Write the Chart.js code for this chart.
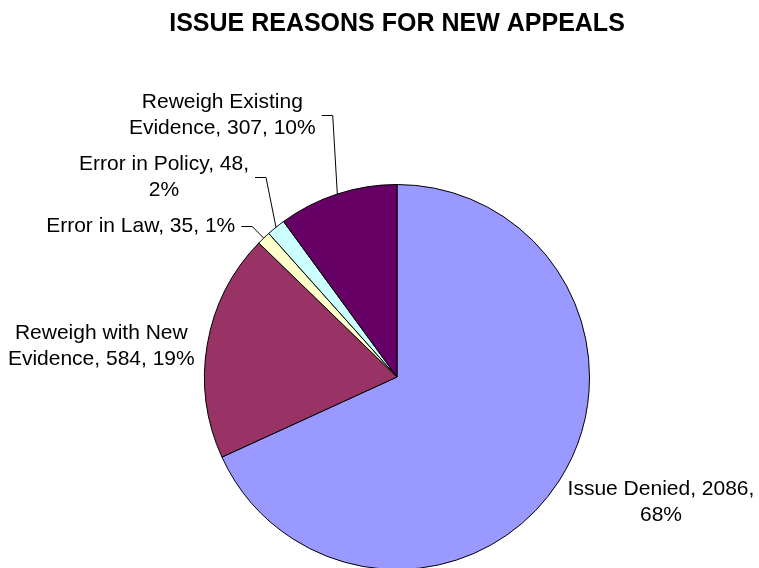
<!DOCTYPE html>
<html>
<head>
<meta charset="utf-8">
<script src="https://cdn.jsdelivr.net/npm/chart.js@4/dist/chart.umd.min.js"></script>
<style>
html, body { margin: 0; padding: 0; background: #fff; overflow: hidden; }
#wrap { position: relative; width: 759px; height: 575px; }
</style>
</head>
<body>
<div id="wrap"><canvas id="chart_issueReasons"></canvas></div>
<script>
var chartTitle = 'ISSUE REASONS FOR NEW APPEALS';
var categories = ['Issue Denied', 'Reweigh with New Evidence', 'Error in Law', 'Error in Policy', 'Reweigh Existing Evidence'];
var appealCounts = [2086, 584, 35, 48, 307];
var sliceColors = ['#9999FF', '#993366', '#FFFFCC', '#CCFFFF', '#660066'];

// how many words go on the first line of each data label
var firstLineWords = [3, 3, 5, 4, 2];
// label block centre, relative to the outer mid point of its slice
var labelOffsets = [[102, 21], [-106, 2], [-123, -12], [-112, -50], [-115, -79]];
var showLeader = [false, false, true, true, true];

var labelFont = '21px "Liberation Sans", Arial, sans-serif';
var titleFont = 'bold 25px "Liberation Sans", Arial, sans-serif';

var pieLabels = {
    id: 'pieLabels',
    afterDatasetsDraw: (chart) => {
        const ctx = chart.ctx;
        const meta = chart.getDatasetMeta(0);
        const total = appealCounts.reduce((a, b) => a + b, 0);
        ctx.save();
        ctx.fillStyle = '#000';
        ctx.strokeStyle = '#000';
        ctx.lineWidth = 1;
        ctx.textAlign = 'center';
        ctx.textBaseline = 'middle';

        // title
        ctx.font = titleFont;
        ctx.fillText(chartTitle, (chart.chartArea.left + chart.chartArea.right) / 2, 24);

        ctx.font = labelFont;
        meta.data.forEach((arc, i) => {
            const p = arc.getProps(['x', 'y', 'startAngle', 'endAngle', 'outerRadius'], true);
            const mid = (p.startAngle + p.endAngle) / 2;
            const ax = p.x + Math.cos(mid) * p.outerRadius;
            const ay = p.y + Math.sin(mid) * p.outerRadius;
            const pct = Math.round(appealCounts[i] / total * 100);
            const words = (categories[i] + ', ' + appealCounts[i] + ', ' + pct + '%').split(' ');
            const lines = [words.slice(0, firstLineWords[i]).join(' '), words.slice(firstLineWords[i]).join(' ')].filter(s => s);
            const cx = ax + labelOffsets[i][0];
            const cy = ay + labelOffsets[i][1];
            const lh = 26;
            lines.forEach((t, k) => ctx.fillText(t, cx, cy + (k - (lines.length - 1) / 2) * lh));
            if (showLeader[i]) {
                const w = Math.max(...lines.map(t => ctx.measureText(t).width));
                const x0 = cx + w / 2 + 6;
                const y0 = Math.round(cy) + 0.5;
                ctx.beginPath();
                ctx.moveTo(x0, y0);
                ctx.lineTo(x0 + 11, y0);
                ctx.lineTo(ax, ay);
                ctx.stroke();
            }
        });
        ctx.restore();
    }
};

var chart_issueReasons = new Chart(document.getElementById('chart_issueReasons'), {
    type: 'pie',
    data: {
        labels: categories,
        datasets: [{
            data: appealCounts,
            backgroundColor: sliceColors,
            borderColor: '#000',
            borderWidth: 1
        }]
    },
    options: {
        animation: false,
        responsive: true,
        maintainAspectRatio: false,
        layout: {
            padding: { left: 204, right: 169, top: 184, bottom: 5 }
        },
        plugins: {
            legend: { display: false },
            title: { display: false },
            tooltip: { enabled: false }
        }
    },
    plugins: [{
        id: 'whiteBackground',
        beforeDraw: (chart) => {
            const ctx = chart.canvas.getContext('2d');
            ctx.save();
            ctx.globalCompositeOperation = 'destination-over';
            ctx.fillStyle = 'white';
            ctx.fillRect(0, 0, chart.canvas.width, chart.canvas.height);
            ctx.restore();
        }
    }, pieLabels]
});
</script>
</body>
</html>
